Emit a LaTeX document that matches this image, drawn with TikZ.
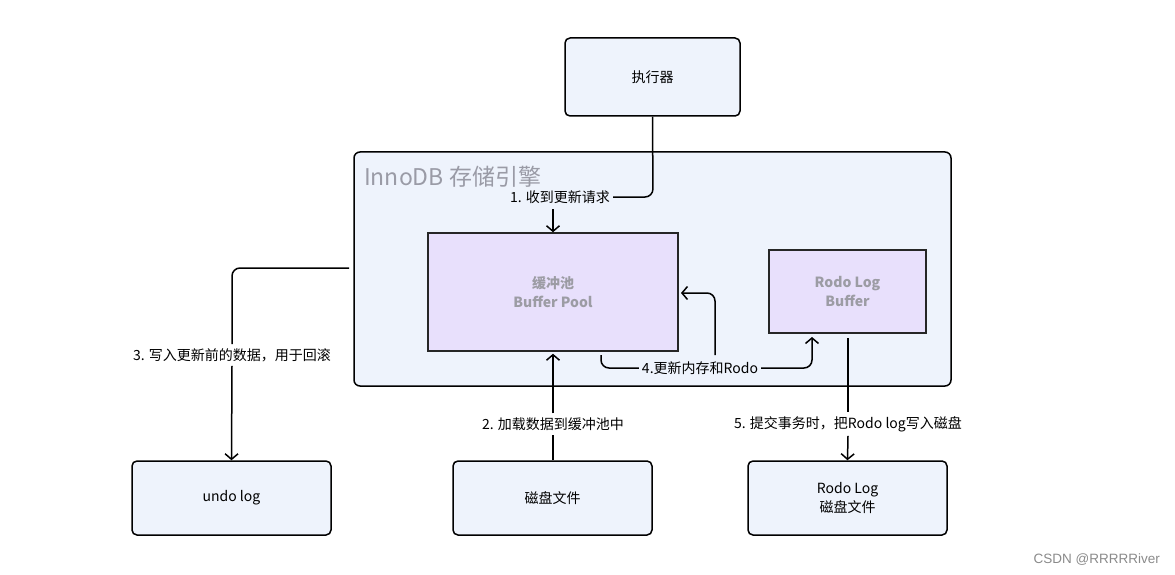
\documentclass[tikz,border=0pt]{standalone}
\usepackage{fontspec}
\setmainfont{Noto Sans CJK SC}
\newfontfamily\wmfont{Liberation Sans}
\usetikzlibrary{arrows.meta}
\definecolor{boxfill}{HTML}{EEF3FC}
\definecolor{bpfill}{HTML}{E8E0FC}
\definecolor{titlegray}{HTML}{9A9BA6}
\definecolor{innergray}{HTML}{9C9CA4}
\definecolor{wmgray}{HTML}{8A8A8A}
\newcommand\boxfont{\fontsize{14}{19.5}\selectfont}
\newcommand\lblfont{\fontsize{14}{17}\selectfont}
\tikzset{
  box/.style={draw=black, line width=1.5pt, fill=boxfill, rounded corners=5pt,
    align=center, font=\boxfont, inner sep=0pt},
  bufbox/.style={draw=black!85, line width=1.5pt, fill=bpfill, align=center,
    font=\boxfont\bfseries, text=innergray, inner sep=0pt},
  conn/.style={line width=1.5pt, draw=black, rounded corners=8pt},
  arr/.style={conn, -{Straight Barb[length=5.5pt,width=13pt,line width=1.5pt]}},
  lbl/.style={fill=white, inner sep=4pt, font=\lblfont},
}
\begin{document}
\begin{tikzpicture}[x=1pt,y=-1pt]
\useasboundingbox (0,0) rectangle (1175,575);
% container
\node[draw=black, line width=1.5pt, fill=boxfill, rounded corners=6pt,
  minimum width=597pt, minimum height=234pt, inner sep=0pt] (inno) at (652.5,269) {};
\node[anchor=west, text=titlegray, font=\fontsize{23}{28}\selectfont, inner sep=0pt] (title) at (364,177) {InnoDB 存储引擎};
% boxes
\node[box, minimum width=175pt, minimum height=78pt] (exec) at (652.5,77) {执行器};
\node[bufbox, minimum width=250pt, minimum height=118pt] (bp) at (553,292) {缓冲池\\Buffer Pool};
\node[bufbox, minimum width=157pt, minimum height=83pt] (rlb) at (847.5,291.5) {Rodo Log\\Buffer};
\node[box, minimum width=199pt, minimum height=74pt] (undo) at (231.5,498) {undo log};
\node[box, minimum width=199pt, minimum height=74pt] (disk) at (552.5,498) {磁盘文件};
\node[box, minimum width=199pt, minimum height=74pt] (rld) at (847.5,498) {Rodo Log\\磁盘文件};
% labels
\node[lbl, fill=boxfill, inner sep=3pt] (l1) at (560,197) {1. 收到更新请求};
\node[lbl] (l2) at (553,424) {2. 加载数据到缓冲池中};
\node[lbl] (l3) at (232,355) {3. 写入更新前的数据，用于回滚};
\node[lbl, fill=boxfill, inner sep=3pt] (l4) at (700,368) {4.更新内存和Rodo};
\node[lbl] (l5) at (848,424) {5. 提交事务时，把Rodo log写入磁盘};
% connectors
\coordinate (c1) at (653,197);
\draw[conn] (exec.south) -- (c1) -- (l1.east);
\coordinate (b1) at (553,209);
\draw[arr] (b1) -- (bp.north);
\draw[conn] (bp.south |- disk.north) -- (l2.south -| bp.south);
\draw[arr] (l2.north -| bp.south) -- ([yshift=-2pt]bp.south);
\coordinate (s3) at (349,268);
\coordinate (c3) at (232,268);
\draw[conn] (s3) -- (c3) -- (l3.north);
\draw[arr] (l3.south) -- (undo.north);
\coordinate (s4) at (601,355);
\coordinate (c4) at (601,368);
\draw[conn] (s4) -- (c4) -- (l4.west);
\coordinate (c4b) at (812,368);
\coordinate (e4b) at (812,337);
\draw[arr] (l4.east) -- (c4b) -- (e4b);
\coordinate (s4c) at (715,355);
\coordinate (c4c) at (715,293);
\coordinate (e4c) at (681,293);
\draw[arr] (s4c) -- (c4c) -- (e4c);
\coordinate (s5) at (848,338);
\draw[conn] (s5) -- (l5.north);
\draw[arr] (l5.south) -- (rld.north);
% watermark
\node[anchor=east, text=wmgray, font=\wmfont\fontsize{13.5}{16}\selectfont, inner sep=0pt] (wm) at (1160,560) {CSDN @RRRRRiver};
\end{tikzpicture}
\end{document}
